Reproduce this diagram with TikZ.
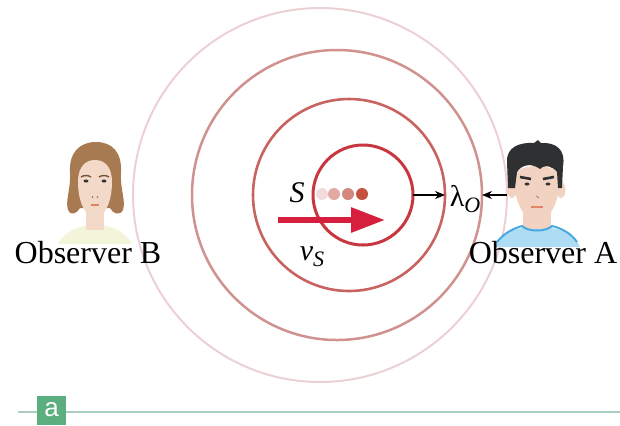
\documentclass[tikz,border=0pt]{standalone}
\usepackage{fontspec}
\setmainfont{Liberation Serif}
\setsansfont{Liberation Sans}
\usepackage{tikz}
\usetikzlibrary{positioning,arrows.meta}

\definecolor{waveA}{HTML}{C8363F}
\definecolor{waveB}{HTML}{C8635F}
\definecolor{waveC}{HTML}{D0928E}
\definecolor{waveD}{HTML}{EDD0D4}
\definecolor{vel}{HTML}{D61F3C}
\definecolor{skinB}{HTML}{F3D9C8}
\definecolor{hairB}{HTML}{A87A52}
\definecolor{shirtB}{HTML}{F3F5DA}
\definecolor{skinA}{HTML}{F2D2C0}
\definecolor{hairA}{HTML}{2F3032}
\definecolor{shirtA}{HTML}{AEDCF4}
\definecolor{collar}{HTML}{48A8E2}
\definecolor{tagfill}{HTML}{5BAE7E}
\definecolor{rule}{HTML}{A9CEC0}

\newcommand{\lowsub}[1]{\raisebox{-0.45ex}{\fontsize{11}{11}\selectfont\textit{#1}}}

\begin{document}
\begin{tikzpicture}[x=0.5pt, y=-0.5pt,
  >={Stealth[length=5pt, width=4pt]},
  wave/.style={draw, circle, inner sep=0pt, outer sep=0pt},
  lbl/.style={font=\fontsize{15}{17}\selectfont},
  who/.style={font=\fontsize{16}{18}\selectfont, anchor=base},
  tag/.style={fill=tagfill, text=white, inner sep=0pt, minimum size=14.5pt,
    font=\sffamily\fontsize{13}{13}\selectfont}]
\useasboundingbox (0,0) rectangle (620,425);
% wave fronts, oldest outside
\node[wave, draw=waveD, line width=1pt, minimum size=187pt] (c4) at (320,195) {};
\node[wave, draw=waveC, line width=1.25pt, minimum size=145pt] (c3) at (337,195) {};
\node[wave, draw=waveB, line width=1.3pt, minimum size=96pt] (c2) at (349,195) {};
\node[wave, draw=waveA, line width=1.5pt, minimum size=50pt] (c1) at (363,195) {};
% source positions
\foreach \i/\x/\c in {1/322/F1DCDB, 2/334/E2AAA3, 3/348/D3877D, 4/362/C4503F}{
  \definecolor{dot\i}{HTML}{\c}
  \fill[dot\i] (\x,194) circle (6);
}
\node[lbl] (S) at (297,193) {\textit{S}};
\coordinate (vtail) at (278,220);
\coordinate (vtip) at (385,220);
\draw[vel, line width=3pt, -{Triangle[length=17pt, width=12pt]}] (vtail) -- (vtip);
\node[lbl] (vs) at (312,257) {\textit{v}\lowsub{S}};
% wavelength in front of the source
\draw[->, line width=0.7pt] (c1.east) -- (c2.east);
\node[lbl] (lam) at (465,199) {λ\lowsub{O}};
\draw[->, line width=0.7pt] (c4.east) -- (c3.east);
% observer B
\fill[shirtB] (58,244) .. controls (66,229) and (82,225) .. (95,225) .. controls (108,225) and (124,229) .. (132,244) -- cycle;
\fill[hairB] (96,142) .. controls (112,142) and (122,152) .. (121,172) .. controls (120,190) and (126,200) .. (123,210) .. controls (120,216) and (113,214) .. (110,208) -- (80,208) .. controls (77,214) and (70,216) .. (68,210) .. controls (65,200) and (71,190) .. (70,172) .. controls (69,152) and (80,142) .. (96,142) -- cycle;
\fill[skinB] (86,205) rectangle (104,230);
\fill[skinB] (78,182) .. controls (78,166) and (86,160) .. (95,160) .. controls (104,160) and (112,166) .. (112,182) .. controls (112,204) and (103,218) .. (95,218) .. controls (87,218) and (78,204) .. cycle;
\draw[hairB!70!black, line width=0.7pt] (81,177) .. controls (84,175) and (88,175) .. (91,177);
\draw[hairB!70!black, line width=0.7pt] (99,177) .. controls (102,175) and (106,175) .. (109,177);
\fill[black!80] (86,181) ellipse (2.5 and 1.5);
\fill[black!80] (104,181) ellipse (2.5 and 1.5);
\fill[black!50] (92.5,197) circle (1) (97.5,197) circle (1);
\draw[red!40!brown!70, line width=0.6pt] (91,205) -- (99,205);
\node[who] (obsB) at (88,263) {Observer B};
% observer A
\fill[shirtA] (494,247) .. controls (500,233) and (515,227) .. (537,227) .. controls (559,227) and (574,233) .. (580,247) -- cycle;
\fill[skinA] (523,208) rectangle (551,229);
\draw[collar, line width=1pt] (497,242) .. controls (505,232) and (515,228) .. (522,226) .. controls (528,232) and (546,232) .. (552,226) .. controls (560,228) and (570,232) .. (577,242);
\fill[skinA] (512,190) ellipse (4.5 and 8) (561,190) ellipse (4.5 and 8);
\fill[skinA] (514,178) .. controls (514,170) and (525,166) .. (537,166) .. controls (549,166) and (559,170) .. (559,178) .. controls (560,205) and (548,221) .. (537,221) .. controls (526,221) and (514,205) .. cycle;
\fill[hairA] (508,188) -- (507,162) .. controls (506,147) and (520,142) .. (534,143) -- (538,140) -- (541,143) .. controls (556,142) and (566,150) .. (563,166) -- (562,188) -- (558,188) -- (557,172) .. controls (552,166) and (545,164) .. (540,169) .. controls (532,163) and (522,164) .. (517,172) -- (515,188) -- cycle;
\draw[hairA, line width=1.3pt] (520,177) -- (531,179) (543,179) -- (554,177);
\fill[black!80] (527,184) ellipse (2.5 and 1.5) (548,184) ellipse (2.5 and 1.5);
\draw[black!40, line width=0.5pt] (536,196) -- (539,198);
\draw[red!40!brown!70, line width=0.6pt] (531,207) -- (543,207);
\node[who] (obsA) at (543,263) {Observer A};
% panel tag
\node[tag] (pa) at (51.5,410) {a};
\coordinate (ruleL) at (18,412);
\coordinate (ruleR) at (620,412);
\draw[rule, line width=0.8pt] (ruleL) -- (pa.west |- ruleL) (pa.east |- ruleR) -- (ruleR);
\end{tikzpicture}
\end{document}
